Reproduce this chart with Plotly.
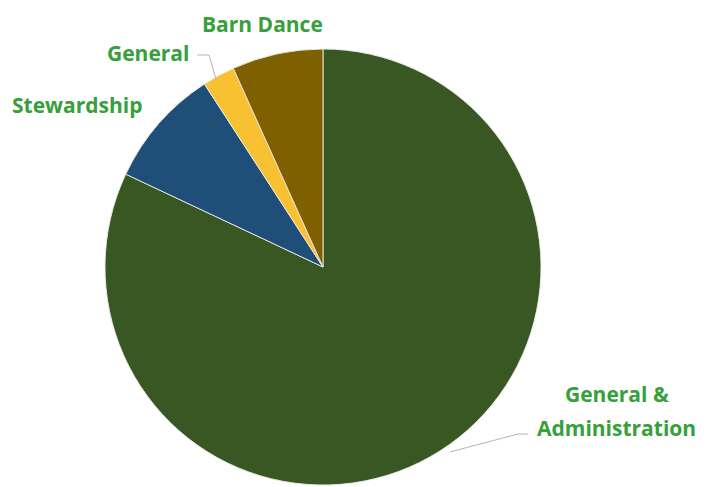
import plotly.graph_objects as go

W, H = 715, 487
OFF = 8  # default page body margin in the browser

categories = ["General & Administration", "Stewardship", "General", "Barn Dance"]
values = [82.0, 8.85, 2.4, 6.75]
colors = ["#385723", "#1f4e79", "#f7c131", "#7f6000"]

label_lines = [["General &", "Administration"], ["Stewardship"], ["General"], ["Barn Dance"]]
label_pos = [[(617, 394), (616, 428)], [(77, 105)], [(148, 53)], [(262, 24)]]

def px(x, y):
    return (x - OFF) / W, 1 - (y - OFF) / H

cx, cy, r = 323, 267, 218
(dx0, dy1), (dx1, dy0) = px(cx - r, cy - r), px(cx + r, cy + r)

fig = go.Figure(go.Pie(
    labels=categories,
    values=values,
    sort=False,
    direction="clockwise",
    rotation=0,
    marker=dict(colors=colors, line=dict(color="rgba(235,235,235,0.9)", width=1)),
    textinfo="none",
    hoverinfo="label+percent",
    showlegend=False,
    domain=dict(x=[dx0, dx1], y=[dy0, dy1]),
))

for lines, poss in zip(label_lines, label_pos):
    for t, (x, y) in zip(lines, poss):
        ax, ay = px(x, y)
        fig.add_annotation(x=ax, y=ay, xref="paper", yref="paper", text=t, showarrow=False,
                           font=dict(family="Open Sans", size=21, color="#36a03a", weight="bold"),
                           xanchor="center", yanchor="middle")

leaders = [
    [(450, 452), (518, 434), (528, 434)],
    [(197, 55), (209, 55), (216, 79)],
]
for pts in leaders:
    path = ""
    for i, (x, y) in enumerate(pts):
        X, Y = px(x, y)
        path += ("M" if i == 0 else "L") + f" {X} {Y} "
    fig.add_shape(type="path", path=path, xref="paper", yref="paper",
                  line=dict(color="#b5b5b5", width=1))

fig.update_layout(
    width=W, height=H,
    margin=dict(l=0, r=0, t=0, b=0),
    paper_bgcolor="white", plot_bgcolor="white",
    font=dict(family="Open Sans"),
)

fig.write_html("out.html")
